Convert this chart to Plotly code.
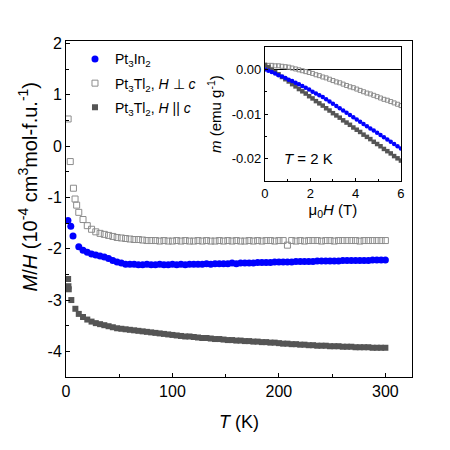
import plotly.graph_objects as go

# ---- main panel: M/H (10^-4 cm^3 mol-f.u.^-1) vs T (K) ----
T_hi = [12, 16, 20, 24, 28, 32, 36, 40,
        44, 48, 52, 56, 60, 64, 68, 72,
        76, 80, 84, 88, 92, 96, 100, 104,
        108, 112, 116, 120, 124, 128, 132, 136,
        140, 144, 148, 152, 156, 160, 164, 168,
        172, 176, 180, 184, 188, 192, 196, 200,
        204, 208, 212, 216, 220, 224, 228, 232,
        236, 240, 244, 248, 252, 256, 260, 264,
        268, 272, 276, 280, 284, 288, 292, 296,
        300]

# Pt3In2
in_T_lo = [1.8, 4.5, 6.6]
in_lo = [-1.45, -1.56, -1.75]
in_hi = [-1.96, -2.03, -2.07, -2.10, -2.12, -2.14, -2.16, -2.19,
         -2.23, -2.26, -2.28, -2.30, -2.30, -2.30, -2.31, -2.31,
         -2.30, -2.31, -2.31, -2.30, -2.31, -2.31, -2.30, -2.31,
         -2.30, -2.31, -2.30, -2.30, -2.30, -2.30, -2.29, -2.30,
         -2.29, -2.29, -2.29, -2.29, -2.28, -2.29, -2.28, -2.28,
         -2.28, -2.28, -2.27, -2.27, -2.27, -2.27, -2.26, -2.26,
         -2.26, -2.26, -2.26, -2.25, -2.25, -2.25, -2.25, -2.25,
         -2.24, -2.24, -2.24, -2.24, -2.24, -2.24, -2.23, -2.23,
         -2.23, -2.23, -2.23, -2.23, -2.23, -2.22, -2.22, -2.22,
         -2.22]

# Pt3Tl2, H perp c
perp_T_lo = [2, 4, 7, 8.5, 10]
perp_lo = [0.53, -0.30, -0.82, -1.03, -1.15]
perp_hi = [-1.29, -1.43, -1.55, -1.62, -1.67, -1.70, -1.72, -1.74,
           -1.76, -1.78, -1.79, -1.80, -1.81, -1.82, -1.82, -1.83,
           -1.84, -1.84, -1.84, -1.85, -1.84, -1.85, -1.85, -1.84,
           -1.85, -1.84, -1.85, -1.85, -1.84, -1.85, -1.84, -1.85,
           -1.85, -1.84, -1.85, -1.84, -1.85, -1.84, -1.85, -1.85,
           -1.84, -1.85, -1.84, -1.85, -1.84, -1.84, -1.85, -1.84,
           -1.84, -1.93, -1.84, -1.85, -1.84, -1.85, -1.84, -1.84,
           -1.84, -1.85, -1.84, -1.84, -1.85, -1.84, -1.84, -1.84,
           -1.84, -1.84, -1.85, -1.84, -1.84, -1.84, -1.84, -1.84,
           -1.84]

# Pt3Tl2, H || c
par_T_lo = [2, 2.3, 2.6, 5, 8.8]
par_lo = [-2.59, -2.73, -2.79, -3.00, -3.17]
par_hi = [-3.27, -3.33, -3.38, -3.42, -3.45, -3.47, -3.49, -3.51,
          -3.53, -3.55, -3.56, -3.57, -3.58, -3.59, -3.60, -3.61,
          -3.62, -3.63, -3.64, -3.65, -3.66, -3.67, -3.68, -3.69,
          -3.70, -3.71, -3.71, -3.72, -3.73, -3.74, -3.74, -3.75,
          -3.76, -3.76, -3.77, -3.78, -3.78, -3.79, -3.79, -3.80,
          -3.80, -3.81, -3.81, -3.82, -3.82, -3.83, -3.83, -3.84,
          -3.85, -3.85, -3.86, -3.86, -3.87, -3.87, -3.88, -3.88,
          -3.89, -3.89, -3.89, -3.90, -3.90, -3.90, -3.91, -3.91,
          -3.91, -3.92, -3.92, -3.92, -3.92, -3.93, -3.93, -3.93,
          -3.93]

# ---- inset: m (emu/g) vs mu0 H (T) at T = 2 K ----
H = [0, 0.15, 0.3, 0.45, 0.6, 0.75, 0.9, 1.05, 1.2, 1.35,
     1.5, 1.65, 1.8, 1.95, 2.1, 2.25, 2.4, 2.55, 2.7, 2.85,
     3.0, 3.15, 3.3, 3.45, 3.6, 3.75, 3.9, 4.05, 4.2, 4.35,
     4.5, 4.65, 4.8, 4.95, 5.1, 5.25, 5.4, 5.55, 5.7, 5.85,
     6.0]
m_in = [0.0000, -0.0003, -0.0006, -0.0009, -0.0013, -0.0016, -0.0019, -0.0023, -0.0026, -0.0030,
        -0.0033, -0.0037, -0.0041, -0.0045, -0.0050, -0.0054, -0.0058, -0.0062, -0.0067, -0.0072,
        -0.0077, -0.0082, -0.0087, -0.0092, -0.0097, -0.0102, -0.0107, -0.0112, -0.0117, -0.0122,
        -0.0127, -0.0132, -0.0137, -0.0142, -0.0147, -0.0152, -0.0157, -0.0162, -0.0167, -0.0172,
        -0.0177]
m_perp = [0.0009, 0.0009, 0.0009, 0.0008, 0.0008, 0.0007, 0.0006, 0.0005, 0.0003, 0.0001,
          -0.0001, -0.0003, -0.0005, -0.0007, -0.0009, -0.0012, -0.0014, -0.0017, -0.0019, -0.0022,
          -0.0025, -0.0028, -0.0030, -0.0033, -0.0036, -0.0039, -0.0041, -0.0044, -0.0047, -0.0050,
          -0.0053, -0.0055, -0.0058, -0.0061, -0.0064, -0.0067, -0.0069, -0.0072, -0.0075, -0.0078,
          -0.0081]
m_par = [0.0010, 0.0005, -0.0001, -0.0006, -0.0011, -0.0017, -0.0022, -0.0027, -0.0033, -0.0038,
         -0.0044, -0.0049, -0.0054, -0.0060, -0.0065, -0.0071, -0.0076, -0.0081, -0.0087, -0.0092,
         -0.0098, -0.0103, -0.0108, -0.0114, -0.0119, -0.0124, -0.0130, -0.0135, -0.0140, -0.0146,
         -0.0151, -0.0156, -0.0162, -0.0167, -0.0172, -0.0178, -0.0183, -0.0188, -0.0194, -0.0199,
         -0.0204]

main_yticks = [2, 1, 0, -1, -2, -3, -4]
main_ytext = ["2", "1", "0", "-1", "-2", "-3", "-4"]
main_xticks = [0, 100, 200, 300]
inset_xticks = [0, 2, 4, 6]
inset_yticks = [0, -0.01, -0.02]
inset_ytext = ["0.00", "-0.01", "-0.02"]

BLUE = "#0000ff"
DARK = "#555555"
LIGHT = "#8c8c8c"
FONT = "Liberation Sans, Arial, sans-serif"

fig = go.Figure()

fig.add_trace(go.Scatter(
    x=in_T_lo + T_hi, y=in_lo + in_hi, mode="markers", legendgroup="a",
    name="Pt<sub>3</sub>In<sub>2</sub>",
    marker=dict(symbol="circle", size=7, color=BLUE)))
fig.add_trace(go.Scatter(
    x=perp_T_lo + T_hi, y=perp_lo + perp_hi, mode="markers", legendgroup="b",
    name="Pt<sub>3</sub>Tl<sub>2</sub>, <i>H</i> \u22a5 <i>c</i>",
    marker=dict(symbol="square-open", size=6, color=LIGHT, line=dict(width=1))))
fig.add_trace(go.Scatter(
    x=par_T_lo + T_hi, y=par_lo + par_hi, mode="markers", legendgroup="c",
    name="Pt<sub>3</sub>Tl<sub>2</sub>, <i>H</i> || <i>c</i>",
    marker=dict(symbol="square", size=6, color=DARK)))

# inset
fig.add_trace(go.Scatter(x=H, y=m_perp, mode="markers", xaxis="x2", yaxis="y2",
                         showlegend=False,
                         marker=dict(symbol="square-open", size=4, color=LIGHT, line=dict(width=1))))
fig.add_trace(go.Scatter(x=H, y=m_par, mode="markers", xaxis="x2", yaxis="y2",
                         showlegend=False,
                         marker=dict(symbol="square", size=4.5, color=DARK)))
fig.add_trace(go.Scatter(x=H, y=m_in, mode="markers", xaxis="x2", yaxis="y2",
                         showlegend=False,
                         marker=dict(symbol="circle", size=4.5, color=BLUE)))

axis_common = dict(showline=True, linecolor="black", linewidth=1, mirror=True,
                   ticks="inside", tickcolor="black", ticklen=4, showgrid=False,
                   zeroline=False, automargin=False)

# page body adds an 8px offset, margins compensate for it
fig.update_layout(
    width=450, height=450,
    margin=dict(l=58, r=46, t=33, b=81),
    paper_bgcolor="white", plot_bgcolor="white",
    font=dict(family=FONT, color="black", size=15),
    showlegend=True,
    legend=dict(x=0.026, y=0.993, xanchor="left", yanchor="top",
                bgcolor="rgba(0,0,0,0)", font=dict(size=14), tracegroupgap=3),
    xaxis=dict(axis_common, range=[0, 325], tickvals=main_xticks,
               minor=dict(dtick=50, ticks="inside", ticklen=3, tickcolor="black"),
               tickfont=dict(size=16),
               title=dict(text="<i>T</i> (K)", font=dict(size=18), standoff=16)),
    yaxis=dict(axis_common, range=[-4.5, 2.05], tickvals=main_yticks, ticktext=main_ytext,
               minor=dict(dtick=0.5, ticks="inside", ticklen=3, tickcolor="black"),
               tickfont=dict(size=16)),
    xaxis2=dict(axis_common, domain=[0.575, 0.968], anchor="y2", range=[0, 6],
                tickvals=inset_xticks, ticklen=3,
                minor=dict(dtick=1, ticks="inside", ticklen=2, tickcolor="black"),
                tickfont=dict(size=13),
                title=dict(text="\u03bc<sub>0</sub><i>H</i> (T)", font=dict(size=15), standoff=2)),
    yaxis2=dict(axis_common, domain=[0.583, 0.982], anchor="x2", range=[-0.025, 0.005],
                tickvals=inset_yticks, ticktext=inset_ytext, ticklen=3,
                zeroline=True, zerolinecolor="black", zerolinewidth=1,
                minor=dict(dtick=0.005, ticks="inside", ticklen=2, tickcolor="black"),
                tickfont=dict(size=13),
                title=dict(text="<i>m</i> (emu g<sup>-1</sup>)", font=dict(size=15), standoff=6)),
    annotations=[
        dict(x=0.75, y=-0.02, xref="x2", yref="y2", xanchor="left",
             text="<i>T</i> = 2 K", showarrow=False, font=dict(size=15)),
        # main y-axis title, sits a little above the axis centre as in the original
        dict(x=-0.110, y=0.567, xref="paper", yref="paper", xanchor="center", yanchor="middle",
             textangle=-90, showarrow=False, font=dict(size=20),
             text="<i>M</i>/<i>H</i> (10<sup>-4</sup> cm<sup>3</sup>mol-f.u.<sup>-1</sup>)"),
    ],
)

fig.write_html("out.html")
